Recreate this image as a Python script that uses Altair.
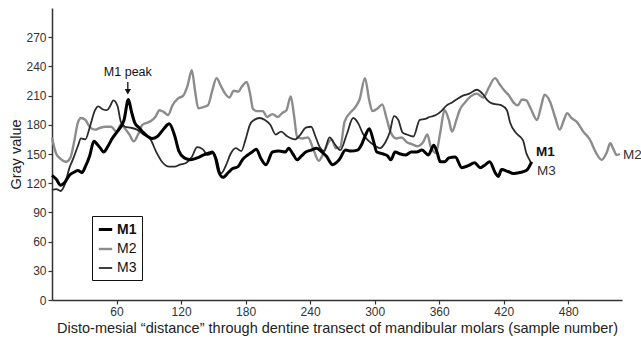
import altair as alt
import pandas as pd

# ---- data ----
series_names = ["M1", "M2", "M3"]

m1_x = [0, 4, 8, 12, 16, 20, 24, 28, 31, 35, 39, 42, 45, 48, 52, 56, 60, 64, 67, 71, 74, 77, 81, 85, 89, 93,
        98, 104, 109, 114, 118, 123, 129, 135, 141, 146, 149, 152, 155, 159, 164, 168, 173, 177, 182, 186, 190,
        194, 199, 205, 211, 217, 220, 224, 228, 232, 236, 241, 246, 251, 255, 261, 267, 273, 278, 284, 288, 291,
        295, 299, 302, 308, 312, 315, 319, 324, 329, 334, 339, 344, 350, 355, 358, 361, 365, 369, 375, 381, 387,
        393, 398, 403, 407, 412, 415, 418, 424, 429, 435, 441, 446]
m1_y = [128, 124, 118, 121, 128, 131, 133, 131, 137, 148, 163, 160, 156, 152, 158, 166, 172, 178, 185, 206, 193,
        182, 177, 172, 168, 166, 168, 176, 181, 169, 153, 146, 144, 146, 149, 151, 152, 146, 132, 126, 131, 135,
        137, 144, 149, 152, 155, 146, 139, 152, 153, 152, 156, 150, 144, 148, 152, 154, 156, 152, 148, 139, 144,
        154, 153, 154, 160, 168, 176, 163, 152, 150, 148, 144, 152, 150, 149, 152, 152, 154, 149, 159, 152, 142,
        142, 146, 147, 136, 138, 141, 136, 139, 142, 131, 127, 134, 132, 130, 131, 133, 142]

m2_x = [0, 4, 8, 13, 17, 21, 24, 27, 31, 35, 40, 45, 50, 55, 60, 64, 68, 72, 76, 80, 84, 88, 92, 96, 100, 104,
        108, 112, 117, 122, 126, 130, 133, 136, 140, 145, 149, 153, 157, 161, 165, 169, 173, 177, 181, 184, 187,
        191, 196, 200, 205, 210, 214, 218, 222, 225, 228, 233, 238, 243, 248, 252, 256, 260, 264, 268, 272, 277,
        282, 286, 291, 295, 298, 303, 307, 311, 315, 320, 325, 330, 335, 340, 345, 349, 352, 357, 361, 365, 369,
        372, 376, 379, 384, 389, 395, 401, 406, 412, 416, 420, 425, 429, 433, 437, 441, 445, 451, 455, 458, 463,
        468, 472, 476, 479, 483, 488, 494, 500, 506, 511, 516, 519, 522, 525, 528]
m2_y = [167, 150, 145, 142, 146, 165, 182, 187, 185, 178, 175, 177, 178, 178, 173, 180, 176, 170, 163, 170, 180,
        182, 184, 188, 195, 193, 190, 200, 207, 210, 220, 236, 215, 197, 198, 200, 215, 228, 220, 212, 208, 215,
        214, 220, 224, 213, 196, 194, 194, 188, 191, 188, 192, 195, 209, 190, 167, 166, 167, 155, 143, 150, 160,
        165, 156, 157, 183, 192, 198, 206, 228, 205, 194, 197, 201, 187, 172, 166, 167, 162, 160, 158, 162, 170,
        158, 151, 172, 195, 185, 173, 185, 195, 203, 209, 212, 208, 218, 228, 222, 216, 210, 203, 200, 206, 205,
        197, 185, 200, 211, 204, 187, 175, 185, 192, 187, 183, 173, 165, 151, 144, 152, 161, 155, 149, 150]

m3_x = [0, 4, 8, 12, 16, 20, 24, 27, 31, 35, 40, 43, 47, 51, 54, 57, 61, 64, 68, 73, 79, 85, 91, 97, 103, 109,
        114, 119, 125, 130, 135, 140, 145, 150, 153, 157, 162, 166, 171, 176, 180, 184, 188, 193, 198, 203, 208,
        213, 219, 226, 231, 236, 241, 245, 249, 253, 258, 263, 268, 274, 280, 285, 289, 293, 297, 301, 305, 310,
        314, 318, 322, 326, 330, 336, 342, 347, 351, 357, 362, 367, 372, 376, 382, 388, 395, 401, 405, 409, 414,
        418, 423, 426, 432, 438, 441, 444, 446]
m3_y = [113, 114, 112, 119, 135, 146, 158, 166, 165, 177, 195, 199, 196, 195, 199, 205, 199, 183, 178, 177, 175,
        170, 166, 152, 141, 137, 137, 139, 141, 147, 157, 155, 149, 151, 145, 130, 139, 150, 156, 153, 165, 180,
        185, 187, 185, 180, 170, 173, 168, 165, 170, 177, 178, 168, 157, 153, 167, 160, 154, 170, 187, 181, 171,
        165, 161, 158, 156, 162, 172, 189, 185, 172, 170, 168, 185, 186, 188, 190, 194, 200, 203, 206, 210, 212,
        216, 211, 205, 202, 201, 200, 195, 182, 171, 164, 151, 144, 140]

x_ticks = [60, 120, 180, 240, 300, 360, 420, 480]
y_ticks = [0, 30, 60, 90, 120, 150, 180, 210, 240, 270]

peak_label = ["M1 peak"]
peak_x = [70.5]
peak_text_y = [234]
arrow_top = [224]
arrow_tip = [214]

end_labels = ["M1", "M3", "M2"]
end_x = [450, 451, 531]
end_y = [152, 133, 149]
end_weight = ["bold", "normal", "normal"]

# ---- build tables ----
rows = []
for name, xs, ys in [("M2", m2_x, m2_y), ("M3", m3_x, m3_y), ("M1", m1_x, m1_y)]:
    for xv, yv in zip(xs, ys):
        rows.append({"series": name, "sample": xv, "gray": yv})
df = pd.DataFrame(rows)

FONT = "Liberation Sans"
x_scale = alt.Scale(domain=[0, 530], nice=False, zero=False)
y_scale = alt.Scale(domain=[0, 300], nice=False)
x_axis = alt.Axis(values=x_ticks, grid=False, labelOverlap=False,
                  title="Disto-mesial \u201cdistance\u201d through dentine transect of mandibular molars (sample number)")
y_axis = alt.Axis(values=y_ticks, grid=False, labelOverlap=False, title="Gray value")


def X(field):
    return alt.X(field, scale=x_scale, axis=x_axis)


def Y(field):
    return alt.Y(field, scale=y_scale, axis=y_axis)


legend = alt.Legend(
    title=None, orient="none", legendX=40, legendY=208,
    strokeColor="#111111", fillColor="white", padding=5,
    symbolType="stroke", symbolSize=180, labelFontSize=14, labelFont=FONT,
    labelColor="#111111", rowPadding=4, labelOffset=3,
    labelFontWeight=alt.ExprRef("datum.label == 'M1' ? 'bold' : 'normal'"),
)

lines = alt.Chart(df).mark_line(interpolate="monotone").encode(
    x=X("sample:Q"),
    y=Y("gray:Q"),
    color=alt.Color("series:N", scale=alt.Scale(domain=series_names, range=["#000000", "#8c8c8c", "#2b2b2b"]),
                    legend=legend),
    strokeWidth=alt.StrokeWidth("series:N", scale=alt.Scale(domain=series_names, range=[3.0, 1.8, 1.1]),
                                legend=legend),
)

peak_df = pd.DataFrame({"label": peak_label, "x": peak_x, "ty": peak_text_y,
                        "a1": arrow_top, "a2": arrow_tip})
peak_text = alt.Chart(peak_df).mark_text(font=FONT, fontSize=12.5, color="#111111", baseline="middle").encode(
    x=X("x:Q"), y=Y("ty:Q"), text="label:N")
arrow_line = alt.Chart(peak_df).mark_rule(color="#111111", strokeWidth=1.3).encode(
    x=X("x:Q"), y=Y("a1:Q"), y2="a2:Q")
arrow_head = alt.Chart(peak_df).mark_point(shape="triangle-down", filled=True, color="#111111",
                                           size=40, opacity=1).encode(
    x=X("x:Q"), y=Y("a2:Q"))

end_df = pd.DataFrame({"label": end_labels, "x": end_x, "y": end_y, "w": end_weight})
end_bold = alt.Chart(end_df[end_df.w == "bold"]).mark_text(
    font=FONT, fontSize=13.5, fontWeight="bold", color="#111111", align="left", baseline="middle").encode(
    x=X("x:Q"), y=Y("y:Q"), text="label:N")
end_norm = alt.Chart(end_df[end_df.w == "normal"]).mark_text(
    font=FONT, fontSize=13.5, color="#333333", align="left", baseline="middle").encode(
    x=X("x:Q"), y=Y("y:Q"), text="label:N")

chart = alt.layer(lines, peak_text, arrow_line, arrow_head, end_bold, end_norm).properties(
    width=570, height=292,
    autosize=alt.AutoSizeParams(type="none"),
    padding={"left": 52, "top": 8, "right": 19, "bottom": 38},
    background="white",
).configure_view(stroke=None).configure_axis(
    labelFont=FONT, titleFont=FONT, labelFontSize=12, titleFontSize=14.5,
    labelColor="#333333", titleColor="#222222", titleFontWeight="normal",
    domainColor="#333333", domainWidth=1.5, tickColor="#333333", tickSize=4, tickWidth=1.2,
    labelPadding=2,
).configure_axisX(titlePadding=4).configure_axisY(titlePadding=2)

chart.save("out.html", embed_options={"renderer": "svg", "actions": False})
